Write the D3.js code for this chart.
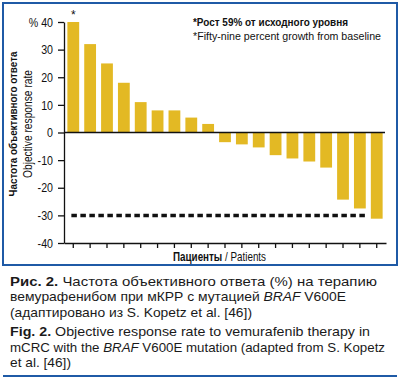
<!DOCTYPE html>
<html>
<head>
<meta charset="utf-8">
<script src="https://cdn.jsdelivr.net/npm/d3@7"></script>
<style>
  body { margin: 0; background: #fff; }
  svg { display: block; }
</style>
</head>
<body>
<svg id="chart"></svg>
<script>
// data
var patients = d3.range(1, 20);
var responses = [40, 32, 25, 18, 11, 8, 8, 5.4, 3.1,
                 -3.5, -4.3, -5.4, -8.2, -9.4, -10.5, -12.7, -24.3, -27.5, -31.2];
var yTicks = [40, 30, 20, 10, 0, -10, -20, -30, -40];
var threshold = -30;

var width = 401;
var height = 381;
var sans = "'Liberation Sans', Arial, sans-serif";
var blue = "#1f5aa6";
var gold = "#e3b924";

var svg = d3.select("#chart")
            .attr("width", width)
            .attr("height", height);

//frame
svg.append("rect")
  .attr("x", 3)
  .attr("y", 3)
  .attr("width", 394)
  .attr("height", 262)
  .attr("fill", "none")
  .attr("stroke", blue)
  .attr("stroke-width", 2);

svg.append("line")
  .attr("x1", 3).attr("x2", 397)
  .attr("y1", 376).attr("y2", 376)
  .attr("stroke", blue)
  .attr("stroke-width", 2);

//scales
var x = d3.scaleBand()
          .domain(patients)
          .range([64, 386])
          .paddingInner(0.3)
          .paddingOuter(0.2);

var y = d3.scaleLinear()
          .domain([-40, 40])
          .range([243, 22]);

//bars
var bars = svg.append("g");

bars.selectAll("rect")
  .data(responses)
  .enter().append("rect")
  .attr("x", function (d, i) { return x(patients[i]); })
  .attr("y", function (d) { return y(Math.max(0, d)); })
  .attr("width", x.bandwidth())
  .attr("height", function (d) { return Math.abs(y(d) - y(0)); })
  .attr("fill", gold);

//threshold line at -30
svg.append("line")
  .attr("x1", x(patients[0]) + 4)
  .attr("x2", x(patients[17]) + x.bandwidth())
  .attr("y1", y(threshold))
  .attr("y2", y(threshold))
  .attr("stroke", "#111")
  .attr("stroke-width", 3.5)
  .attr("stroke-dasharray", "5.5,3.5");

//zero line
svg.append("line")
  .attr("x1", 64).attr("x2", 385)
  .attr("y1", y(0)).attr("y2", y(0))
  .attr("stroke", "#111")
  .attr("stroke-width", 1.5);

//axes
var yAxis = svg.append("g")
  .attr("transform", "translate(64,0)")
  .call(d3.axisLeft(y)
          .tickValues(yTicks)
          .tickSize(6)
          .tickSizeOuter(0)
          .tickPadding(5)
          .tickFormat(function (d) { return d === 40 ? "% 40" : d; }));

var xAxis = svg.append("g")
  .attr("transform", "translate(0," + y(-40) + ")")
  .call(d3.axisBottom(x)
          .tickSize(5)
          .tickSizeOuter(0)
          .tickFormat(""));

[yAxis, xAxis].forEach(function (g) {
  g.selectAll("path, line").attr("stroke", "#111").attr("stroke-width", 1.3);
});

// condensed look for the tick labels
yAxis.selectAll("text")
  .attr("font-family", sans)
  .attr("font-size", "13px")
  .attr("fill", "#111")
  .each(function () {
    var t = d3.select(this);
    var tx = +t.attr("x");
    t.attr("x", 0).attr("transform", "translate(" + tx + ",0) scale(0.82,1)");
  });

//axis titles
var yTitle = svg.append("g")
  .attr("transform", "rotate(-90)");

yTitle.append("text")
  .text("Частота объективного ответа")
  .attr("x", -124)
  .attr("y", 17)
  .attr("text-anchor", "middle")
  .attr("font-family", sans)
  .attr("font-weight", "bold")
  .attr("font-size", "11.5px")
  .attr("textLength", 145)
  .attr("lengthAdjust", "spacingAndGlyphs")
  .attr("fill", "#111");

yTitle.append("text")
  .text("Objective response rate")
  .attr("x", -124)
  .attr("y", 32)
  .attr("text-anchor", "middle")
  .attr("font-family", sans)
  .attr("font-size", "12.5px")
  .attr("textLength", 108)
  .attr("lengthAdjust", "spacingAndGlyphs")
  .attr("fill", "#111");

var xTitle = svg.append("text")
  .attr("transform", "translate(173,261) scale(0.82,1)")
  .attr("font-family", sans)
  .attr("font-size", "12px")
  .attr("fill", "#111");

xTitle.append("tspan").attr("font-weight", "bold").text("Пациенты");
xTitle.append("tspan").text(" / Patients");

//star over the first bar and note
svg.append("text")
  .text("*")
  .attr("x", x(patients[0]) + x.bandwidth() / 2)
  .attr("y", 19)
  .attr("text-anchor", "middle")
  .attr("font-family", sans)
  .attr("font-size", "12px")
  .attr("fill", "#111");

svg.append("text")
  .text("*Рост 59% от исходного уровня")
  .attr("x", 193)
  .attr("y", 26)
  .attr("font-family", sans)
  .attr("font-weight", "bold")
  .attr("font-size", "11.5px")
  .attr("textLength", 155)
  .attr("lengthAdjust", "spacingAndGlyphs")
  .attr("fill", "#111");

svg.append("text")
  .text("*Fifty-nine percent growth from baseline")
  .attr("x", 193)
  .attr("y", 40)
  .attr("font-family", sans)
  .attr("font-size", "11px")
  .attr("textLength", 188)
  .attr("lengthAdjust", "spacingAndGlyphs")
  .attr("fill", "#111");

//caption
var caption = [
  [["b", "Рис. 2."], ["", " Частота объективного ответа (%) на терапию"]],
  [["", "вемурафенибом при мКРР с мутацией "], ["i", "BRAF"], ["", " V600E"]],
  [["", "(адаптировано из S. Kopetz et al. [46])"]],
  [["b", "Fig. 2."], ["", " Objective response rate to vemurafenib therapy in"]],
  [["", "mCRC with the "], ["i", "BRAF"], ["", " V600E mutation (adapted from S. Kopetz"]],
  [["", "et al. [46])"]]
];
var captionY = [286, 301, 316.5, 336, 351.5, 367];
var captionW = [367, 336, 242, 360, 375, 61];

caption.forEach(function (line, i) {
  var t = svg.append("text")
    .attr("x", 10)
    .attr("y", captionY[i])
    .attr("font-family", sans)
    .attr("font-size", "13.5px")
    .attr("textLength", captionW[i])
    .attr("lengthAdjust", "spacingAndGlyphs")
    .attr("fill", "#1a1a1a");
  line.forEach(function (part) {
    var s = t.append("tspan").text(part[1]);
    if (part[0] === "b") s.attr("font-weight", "bold");
    if (part[0] === "i") s.attr("font-style", "italic");
  });
});
</script>
</body>
</html>
